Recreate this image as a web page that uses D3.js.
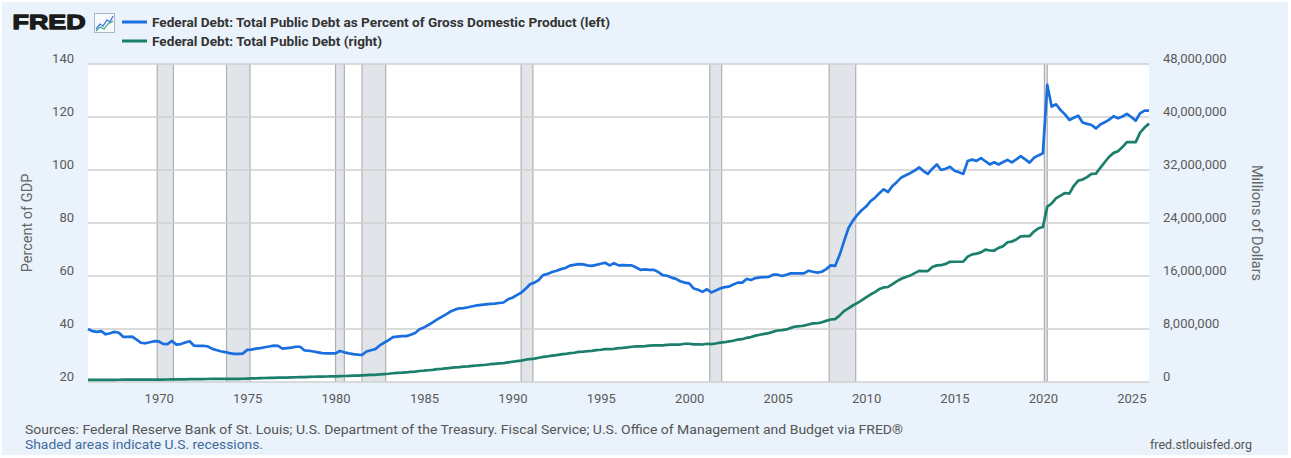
<!DOCTYPE html>
<html><head><meta charset="utf-8">
<script src="https://cdn.jsdelivr.net/npm/d3@7"></script>
<style>body{margin:0;background:#fff;}svg{display:block;font-family:Roboto,"Noto Sans",sans-serif;}</style>
</head><body>
<svg id="c" width="1291" height="458"></svg>
<script>
// ---- DATA ----
const startDate = "1966-01-01"; // first quarter, quarterly observations
const pctGDP = [
40.0,39.2,38.9,39.2, 38.0,38.4,38.9,38.6, 37.0,37.0,37.1,36.0, 34.8,34.6,35.0,35.4,
35.3,34.4,34.3,35.5, 34.1,34.3,34.9,35.4, 33.7,33.6,33.6,33.5, 32.6,32.1,31.6,31.3,
30.9,30.6,30.6,30.7, 32.1,32.2,32.6,32.8, 33.1,33.4,33.7,33.6, 32.6,32.8,33.0,33.3,
33.3,31.9,31.8,31.5, 31.2,30.9,30.8,30.8, 30.8,31.7,31.2,30.8, 30.5,30.3,30.2,31.5,
32.0,32.4,33.8,34.8, 35.8,36.9,37.1,37.3, 37.3,37.8,38.5,39.9, 40.6,41.5,42.5,43.6,
44.6,45.5,46.6,47.3, 47.8,47.9,48.2,48.6, 48.9,49.1,49.3,49.5, 49.6,49.8,50.0,51.2,
51.8,52.8,53.7,55.2, 56.9,57.5,58.5,60.4, 60.8,61.5,62.0,62.6, 63.0,63.9,64.2,64.5,
64.4,64.0,63.8,64.2, 64.6,65.0,64.0,64.8, 64.0,64.1,64.0,64.0, 63.2,62.3,62.5,62.3,
62.3,61.5,60.3,60.1, 59.4,58.9,58.0,57.5, 57.2,55.3,54.8,54.0, 55.0,53.8,54.5,55.3,
55.8,56.0,56.8,57.5, 57.5,58.9,58.5,59.2, 59.5,59.6,59.7,60.5, 60.5,60.0,60.5,61.0,
61.0,61.0,61.0,62.0, 61.6,61.3,61.6,62.6, 64.0,63.8,67.8,73.0, 78.0,80.8,83.0,84.8,
86.2,88.2,89.5,91.2, 92.7,91.7,94.0,95.5, 97.2,98.0,98.8,99.8, 101.0,99.6,98.5,100.5,
102.1,100.0,100.5,101.2, 99.7,99.2,98.5,103.4, 103.9,103.4,104.5,103.3, 102.1,102.9,102.1,103.0,
103.8,102.9,104.0,105.2, 104.0,102.8,104.6,105.5, 106.3,132.1,123.9,124.8, 122.6,121.0,118.9,119.7,
120.5,117.9,117.4,117.0, 115.7,117.2,118.0,119.0, 120.3,119.5,120.2,121.2, 120.0,118.6,121.4,122.4,
122.4
];
const debtMillions = [
320000,319000,324000,329000, 331000,322000,335000,341000, 345000,348000,356000,358000, 360000,353000,361000,368000,
372000,370000,380000,389000, 391000,398000,410000,424000, 428000,427000,436000,449000, 458000,458000,466000,469000,
475000,474000,482000,492000, 509000,533000,554000,576000, 600000,620000,635000,653000, 669000,675000,698000,718000,
740000,750000,772000,789000, 806000,812000,827000,845000, 863000,878000,907000,930000, 964000,970000,997000,1028000,
1061000,1080000,1142000,1197000, 1244000,1318000,1381000,1410000, 1463000,1518000,1572000,1663000, 1710000,1774000,1823000,1946000,
1986000,2059000,2125000,2214000, 2250000,2310000,2350000,2432000, 2492000,2548000,2602000,2684000, 2739000,2800000,2857000,2953000,
3053000,3143000,3233000,3365000, 3466000,3538000,3665000,3801000, 3881000,3984000,4065000,4177000, 4231000,4352000,4411000,4536000,
4576000,4646000,4693000,4800000, 4864000,4951000,4974000,4989000, 5118000,5161000,5225000,5323000, 5381000,5376000,5413000,5502000,
5542000,5548000,5526000,5614000, 5651000,5639000,5656000,5776000, 5773000,5685000,5674000,5662000, 5774000,5727000,5807000,5943000,
6006000,6126000,6228000,6405000, 6460000,6670000,6783000,6998000, 7131000,7274000,7379000,7596000, 7776000,7837000,7933000,8170000,
8371000,8420000,8507000,8680000, 8849000,8868000,9008000,9229000, 9437000,9492000,10025000,10700000, 11127000,11545000,11910000,12311000,
12773000,13202000,13562000,14025000, 14270000,14343000,14790000,15223000, 15582000,15856000,16066000,16433000, 16771000,16738000,16738000,17352000,
17602000,17633000,17824000,18141000, 18152000,18152000,18153000,18922000, 19264000,19382000,19573000,19977000, 19847000,19845000,20245000,20493000,
21090000,21195000,21516000,21974000, 22028000,22023000,22719000,23201000, 23400000,26477000,26945000,27748000, 28133000,28529000,28428000,29617000,
30401000,30568000,30929000,31419000, 31458000,32333000,33168000,34001000, 34587000,34832000,35465000,36218000, 36215000,36211000,37637000,38400000,
39000000
];
const recessionStarts = ["1969-12-01","1973-11-01","1980-01-01","1981-07-01","1990-07-01","2001-03-01","2007-12-01","2020-02-01"];
const recessionEnds   = ["1970-11-01","1975-03-01","1980-07-01","1982-11-01","1991-03-01","2001-11-01","2009-06-01","2020-04-01"];
const leftTicks = [20,40,60,80,100,120,140];
const rightTicks = [0,8000000,16000000,24000000,32000000,40000000,48000000];
const xTickYears = [1970,1975,1980,1985,1990,1995,2000,2005,2010,2015,2020,2025];
const seriesNames = ["Federal Debt: Total Public Debt as Percent of Gross Domestic Product (left)",
                     "Federal Debt: Total Public Debt (right)"];

// ---- CHART ----
const svg = d3.select("#c");
const parse = d3.timeParse("%Y-%m-%d");
const d0 = parse(startDate);
const dates = pctGDP.map((_, i) => d3.timeMonth.offset(d0, i * 3));
const L = 88, R = 1149, T = 64, B = 382;
const x = d3.scaleTime().domain([d0, parse("2026-01-01")]).range([L, R]);
const yL = d3.scaleLinear().domain([20, 140]).range([B, T]);
const yR = d3.scaleLinear().domain([0, 48000000]).range([B, T]);
const blue = "#1a6fdf", green = "#1b7f6c", tickCol = "#5a5a5a";

svg.append("rect").attr("x", 2).attr("y", 2).attr("width", 1286).attr("height", 453).attr("fill", "#eaf2fb");
svg.append("rect").attr("x", L).attr("y", T).attr("width", R - L).attr("height", B - T).attr("fill", "#fff");

// recessions
const rec = recessionStarts.map((s, i) => [parse(s), parse(recessionEnds[i])]);
svg.append("g").selectAll("rect").data(rec).join("rect")
  .attr("x", d => x(d[0])).attr("y", T).attr("width", d => x(d[1]) - x(d[0])).attr("height", B - T)
  .attr("fill", "#e1e5ea");
svg.append("g").selectAll("line").data(rec.flat()).join("line")
  .attr("x1", d => x(d)).attr("x2", d => x(d)).attr("y1", T).attr("y2", B)
  .attr("stroke", "#b0b0b0").attr("stroke-width", 1.2);

// grid
svg.append("g").selectAll("line").data(leftTicks).join("line")
  .attr("x1", L).attr("x2", R).attr("y1", d => yL(d)).attr("y2", d => yL(d))
  .attr("stroke", "#cfcfcf").attr("stroke-width", 1.5);

// axes
const axL = svg.append("g").attr("transform", `translate(${L - 14},0)`)
  .call(d3.axisLeft(yL).tickValues(leftTicks).tickSize(0).tickPadding(0));
const axR = svg.append("g").attr("transform", `translate(${R + 14},0)`)
  .call(d3.axisRight(yR).tickValues(rightTicks).tickSize(0).tickPadding(0).tickFormat(d3.format(",")));
const axX = svg.append("g").attr("transform", `translate(0,${B})`)
  .call(d3.axisBottom(x).tickValues(xTickYears.map(yv => new Date(yv, 0, 1))).tickSize(0).tickPadding(12).tickFormat(d3.timeFormat("%Y")));
[axL, axR, axX].forEach(a => {
  a.select(".domain").remove();
  a.selectAll("text").attr("fill", tickCol).style("font-size", "13px").style("font-family", "Roboto,sans-serif");
});
axL.selectAll("text").attr("dy", "-0.15em");
axR.selectAll("text").attr("dy", "-0.15em");

// axis titles
svg.append("text").attr("transform", "translate(32,223) rotate(-90)").attr("text-anchor", "middle")
  .attr("fill", "#666").style("font-size", "14.5px").text("Percent of GDP");
svg.append("text").attr("transform", "translate(1252,223) rotate(90)").attr("text-anchor", "middle")
  .attr("fill", "#666").style("font-size", "14.5px").text("Millions of Dollars");

// lines
const lineL = d3.line().x((d, i) => x(dates[i])).y(d => yL(d));
const lineR = d3.line().x((d, i) => x(dates[i])).y(d => yR(d));
svg.append("path").datum(debtMillions).attr("d", lineR).attr("fill", "none").attr("stroke", green)
  .attr("stroke-width", 2.7).attr("stroke-linejoin", "round");
svg.append("path").datum(pctGDP).attr("d", lineL).attr("fill", "none").attr("stroke", blue)
  .attr("stroke-width", 2.7).attr("stroke-linejoin", "round");

// header: logo
svg.append("text").attr("x", 12.5).attr("y", 29).attr("textLength", 73).attr("lengthAdjust", "spacingAndGlyphs")
  .attr("fill", "#1b1b1b").attr("stroke", "#1b1b1b").attr("stroke-width", 1.3).attr("stroke-linejoin", "round")
  .style("font-size", "21px").style("font-weight", "900")
  .style("font-family", "'Liberation Sans',Arial,sans-serif").text("FRED");
svg.append("rect").attr("x", 94.5).attr("y", 13.5).attr("width", 20).attr("height", 19)
  .attr("fill", "#f7fafd").attr("stroke", "#a8b8c8");
svg.append("polyline").attr("points", "96,29 100,24 103,26 107,20 110,22 113,16").attr("fill", "none")
  .attr("stroke", "#3b7dd8").attr("stroke-width", 1.3);
svg.append("polyline").attr("points", "96,31 100,27 104,29 108,24 113,21").attr("fill", "none")
  .attr("stroke", "#3aa58a").attr("stroke-width", 1.1);

// legend
const legW = [458, 230];
[blue, green].forEach((c, i) => {
  const yy = 22 + i * 19;
  svg.append("line").attr("x1", 122).attr("x2", 147).attr("y1", yy).attr("y2", yy)
    .attr("stroke", c).attr("stroke-width", 3);
  svg.append("text").attr("x", 152).attr("y", yy + 4.5).attr("textLength", legW[i]).attr("lengthAdjust", "spacingAndGlyphs")
    .attr("fill", "#333").style("font-size", "12.5px").style("font-weight", "bold").text(seriesNames[i]);
});

// footer
svg.append("text").attr("x", 25).attr("y", 434).attr("textLength", 878).attr("lengthAdjust", "spacingAndGlyphs")
  .attr("fill", "#555").style("font-size", "12.5px")
  .text("Sources: Federal Reserve Bank of St. Louis; U.S. Department of the Treasury. Fiscal Service; U.S. Office of Management and Budget via FRED®");
svg.append("text").attr("x", 25).attr("y", 449).attr("textLength", 238).attr("lengthAdjust", "spacingAndGlyphs")
  .attr("fill", "#3f6b9c").style("font-size", "12.5px").text("Shaded areas indicate U.S. recessions.");
svg.append("text").attr("x", 1252).attr("y", 449).attr("text-anchor", "end")
  .attr("fill", "#555").style("font-size", "12.5px").text("fred.stlouisfed.org");
</script>
</body></html>
